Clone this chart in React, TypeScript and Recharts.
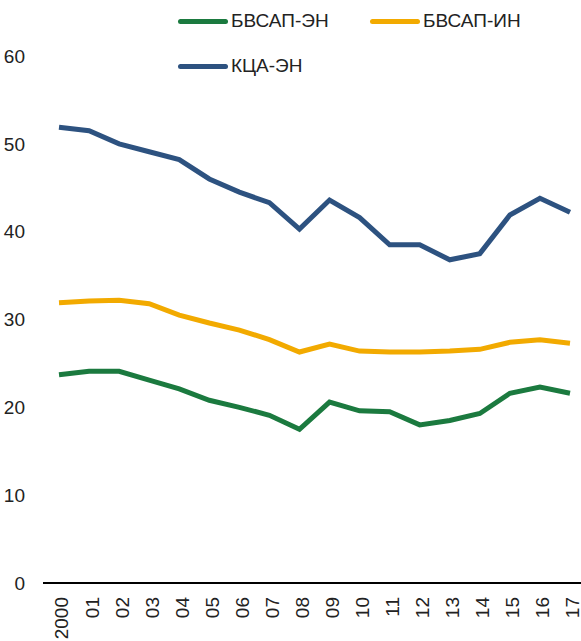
import React from "react";
import { Line, LineChart, XAxis, YAxis } from "recharts";

const YEARS = ["2000", "01", "02", "03", "04", "05", "06", "07", "08", "09", "10", "11", "12", "13", "14", "15", "16", "17"];
const BVSAP_EN = [23.7, 24.1, 24.1, 23.1, 22.1, 20.8, 20.0, 19.1, 17.5, 20.6, 19.6, 19.5, 18.0, 18.5, 19.3, 21.6, 22.3, 21.6];
const BVSAP_IN = [31.9, 32.1, 32.2, 31.8, 30.5, 29.6, 28.8, 27.7, 26.3, 27.2, 26.4, 26.3, 26.3, 26.4, 26.6, 27.4, 27.7, 27.3];
const KCA_EN = [51.9, 51.5, 50.0, 49.1, 48.2, 46.0, 44.5, 43.3, 40.3, 43.6, 41.6, 38.5, 38.5, 36.8, 37.5, 41.9, 43.8, 42.2];
const Y_TICKS = [0, 10, 20, 30, 40, 50, 60];

const SERIES = [
  { key: "БВСАП-ЭН", values: BVSAP_EN, color: "#1b7a3f" },
  { key: "БВСАП-ИН", values: BVSAP_IN, color: "#f2aa00" },
  { key: "КЦА-ЭН", values: KCA_EN, color: "#2d5280" },
];

const data = YEARS.map((year, i) => {
  const row: Record<string, string | number> = { year };
  SERIES.forEach((s) => {
    row[s.key] = s.values[i];
  });
  return row;
});

const FONT = "'Liberation Sans', Arial, sans-serif";

function LegendItem({ s, left, top }: { s: (typeof SERIES)[number]; left: number; top: number }) {
  return (
    <div style={{ position: "absolute", left, top, display: "flex", alignItems: "center" }}>
      <div style={{ width: 50, height: 5, borderRadius: 3, background: s.color, marginRight: 3 }} />
      <span style={{ fontSize: 19, lineHeight: "22px", color: "#222", fontFamily: FONT }}>{s.key}</span>
    </div>
  );
}

export default function App() {
  return (
    <div style={{ position: "absolute", left: 0, top: 0, width: 581, height: 641, background: "#fff" }}>
      <LineChart
        width={581}
        height={641}
        data={data}
        margin={{ top: 56, right: 0, left: 0, bottom: 0 }}
        style={{ fontFamily: FONT }}
      >
        <XAxis
          dataKey="year"
          interval={0}
          height={58}
          angle={-90}
          textAnchor="end"
          padding={{ left: 16, right: 11 }}
          tickLine={false}
          tickSize={0}
          tickMargin={14}
          axisLine={{ stroke: "#000", strokeWidth: 2 }}
          tick={{ fontSize: 19, fill: "#222", dx: -4 }}
        />
        <YAxis
          width={43}
          domain={[0, 60]}
          ticks={Y_TICKS}
          axisLine={false}
          tickLine={false}
          tickSize={0}
          tickMargin={18}
          tick={{ fontSize: 19, fill: "#222" }}
        />
        {SERIES.map((s) => (
          <Line
            key={s.key}
            dataKey={s.key}
            stroke={s.color}
            strokeWidth={5}
            dot={false}
            type="linear"
            isAnimationActive={false}
          />
        ))}
      </LineChart>
      <LegendItem s={SERIES[0]} left={178} top={10} />
      <LegendItem s={SERIES[1]} left={370} top={10} />
      <LegendItem s={SERIES[2]} left={178} top={55} />
    </div>
  );
}
